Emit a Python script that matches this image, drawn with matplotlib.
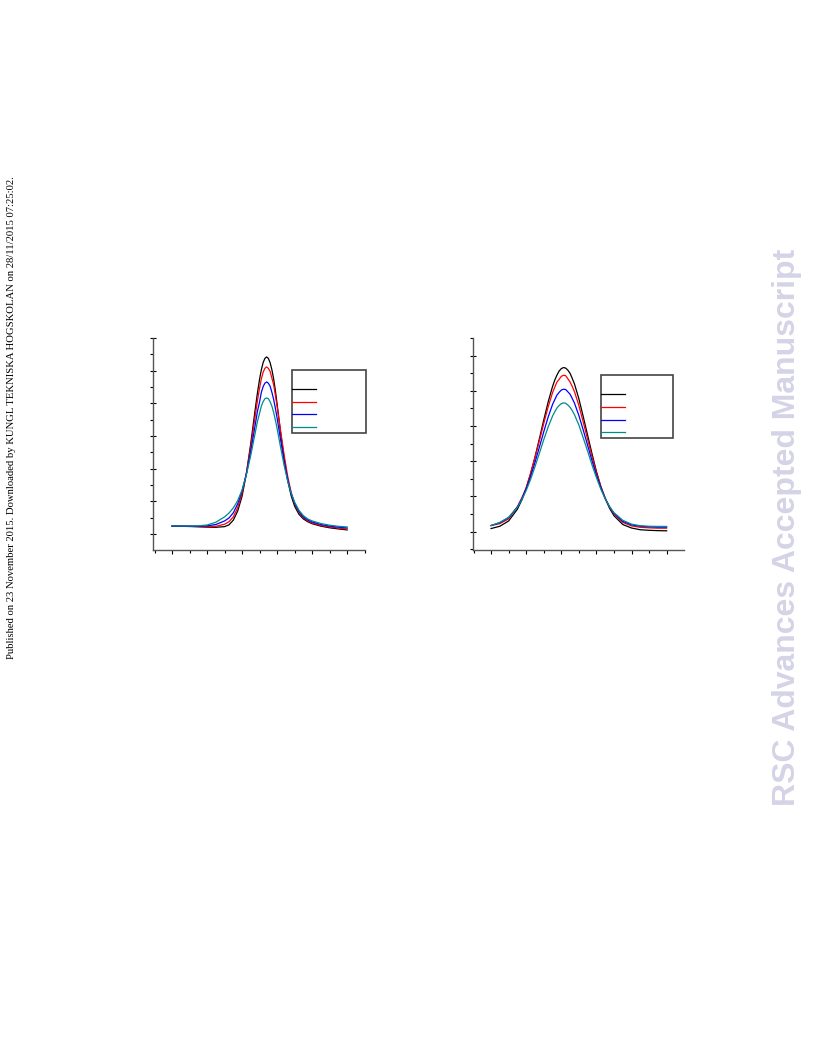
import matplotlib.pyplot as plt
from matplotlib.patches import Rectangle
from matplotlib.ticker import MultipleLocator, NullFormatter

# left panel
xa = [0, 0.5, 1, 1.5, 2, 2.5, 3, 3.25, 3.5, 3.75, 4, 4.25, 4.5, 4.75, 4.875, 5, 5.1, 5.2, 5.3, 5.4,
      5.5, 5.6, 5.7, 5.8, 5.9, 6, 6.2, 6.4, 6.6, 6.8, 7, 7.25, 7.5, 7.75, 8, 8.5, 9, 9.5, 10]
a_black = [0.48, 0.47, 0.46, 0.44, 0.42, 0.41, 0.45, 0.56, 0.85, 1.41, 2.32, 3.74, 5.59, 7.65, 8.63, 9.49,
           10.06, 10.49, 10.75, 10.84, 10.75, 10.49, 10.06, 9.5, 8.79, 7.95, 6.2, 4.6, 3.3, 2.35, 1.7,
           1.2, 0.92, 0.75, 0.63, 0.48, 0.38, 0.31, 0.25]
a_red = [0.49, 0.48, 0.47, 0.46, 0.45, 0.47, 0.6, 0.75, 1.05, 1.62, 2.5, 3.75, 5.4, 7.25, 8.16, 8.95,
         9.5, 9.9, 10.14, 10.23, 10.14, 9.95, 9.55, 9.15, 8.5, 7.8, 6.3, 4.85, 3.55, 2.55, 1.84,
         1.32, 1.0, 0.8, 0.68, 0.52, 0.43, 0.36, 0.3]
a_blue = [0.49, 0.48, 0.48, 0.48, 0.5, 0.58, 0.8, 0.98, 1.3, 1.85, 2.65, 3.7, 5.1, 6.7, 7.5, 8.1,
          8.68, 9.02, 9.23, 9.31, 9.23, 9.05, 8.68, 8.25, 7.7, 7.1, 5.75, 4.45, 3.35, 2.5, 1.88,
          1.38, 1.05, 0.86, 0.74, 0.58, 0.48, 0.42, 0.37]
a_teal = [0.5, 0.49, 0.49, 0.5, 0.55, 0.72, 1.05, 1.28, 1.6, 2.05, 2.7, 3.65, 4.85, 6.2, 6.89, 7.4,
          7.83, 8.1, 8.28, 8.33, 8.28, 8.1, 7.83, 7.45, 6.98, 6.45, 5.3, 4.2, 3.25, 2.5, 1.95,
          1.45, 1.12, 0.92, 0.8, 0.64, 0.54, 0.47, 0.43]

# right panel
xb = [0, 0.5, 1, 1.5, 1.75, 2, 2.25, 2.5, 2.75, 3, 3.25, 3.5, 3.625, 3.75, 3.875, 4, 4.125, 4.25,
      4.375, 4.5, 4.625, 4.75, 5, 5.25, 5.5, 5.75, 6, 6.25, 6.5, 6.75, 7, 7.5, 8, 8.5, 9, 9.5, 10]
b_black = [0.17, 0.3, 0.6, 1.27, 1.79, 2.46, 3.28, 4.23, 5.27, 6.34, 7.36, 8.24, 8.6, 8.89, 9.12, 9.26,
           9.32, 9.29, 9.17, 8.99, 8.7, 8.39, 7.55, 6.53, 5.47, 4.42, 3.42, 2.57, 1.88, 1.32, 0.9,
           0.4, 0.2, 0.1, 0.07, 0.05, 0.04]
b_red = [0.34, 0.45, 0.72, 1.42, 1.91, 2.49, 3.31, 4.19, 5.16, 6.14, 7.08, 7.89, 8.2, 8.49, 8.65, 8.82,
         8.88, 8.86, 8.68, 8.5, 8.24, 7.95, 7.17, 6.22, 5.24, 4.26, 3.35, 2.56, 1.9, 1.39, 0.99,
         0.52, 0.32, 0.24, 0.21, 0.19, 0.19]
b_blue = [0.34, 0.5, 0.79, 1.39, 1.85, 2.43, 3.12, 3.92, 4.79, 5.67, 6.5, 7.22, 7.49, 7.75, 7.91, 8.04,
          8.09, 8.07, 7.94, 7.8, 7.56, 7.3, 6.6, 5.77, 4.9, 4.02, 3.2, 2.49, 1.88, 1.4, 1.04,
          0.58, 0.38, 0.3, 0.27, 0.25, 0.25]
b_teal = [0.34, 0.52, 0.81, 1.38, 1.8, 2.33, 2.96, 3.68, 4.44, 5.22, 5.94, 6.56, 6.8, 7.02, 7.16, 7.27,
          7.31, 7.29, 7.19, 7.06, 6.87, 6.64, 6.06, 5.32, 4.57, 3.78, 3.07, 2.41, 1.87, 1.41, 1.07,
          0.64, 0.42, 0.33, 0.3, 0.29, 0.29]

colors = ['black', '#ff0000', '#0000ff', '#008b8b']

fig = plt.figure(figsize=(8.16, 10.56), dpi=100)

ax1 = fig.add_axes([153/816, 1-550/1056, 212/816, 212/1056])
ax2 = fig.add_axes([473/816, 1-550/1056, 211/816, 212/1056])


def style(ax, xlim, ylim):
    ax.set_xlim(*xlim)
    ax.set_ylim(*ylim)
    for s in ['top', 'right']:
        ax.spines[s].set_visible(False)
    for s in ['left', 'bottom']:
        ax.spines[s].set_color('#555555')
        ax.spines[s].set_linewidth(1.0)
    ax.xaxis.set_major_locator(MultipleLocator(2))
    ax.xaxis.set_minor_locator(MultipleLocator(1))
    ax.yaxis.set_major_locator(MultipleLocator(2))
    ax.yaxis.set_minor_locator(MultipleLocator(1))
    ax.xaxis.set_major_formatter(NullFormatter())
    ax.yaxis.set_major_formatter(NullFormatter())
    ax.tick_params(which='major', direction='out', length=3, width=0.8)
    ax.tick_params(which='minor', direction='out', length=2, width=0.8)
    ax.tick_params(axis='y', which='major', direction='inout', length=5)


def legend_box(ax, x0, x1, y0, y1, ys):
    ax.add_patch(Rectangle((x0, y0), x1-x0, y1-y0, transform=ax.transAxes,
                           fill=False, edgecolor='#444444', lw=1.2, clip_on=False))
    for c, y in zip(colors, ys):
        ax.plot([x0, x0+0.113], [y, y], color=c, lw=0.9, transform=ax.transAxes, clip_on=False)


for ys, c in zip([a_black, a_red, a_blue, a_teal], colors):
    ax1.plot(xa, ys, color=c, lw=0.9)
style(ax1, (-1.09, 11.02), (-0.98, 12.0))
legend_box(ax1, 0.656, 1.005, 0.552, 0.849, [0.759, 0.699, 0.642, 0.580])

for ys, c in zip([b_black, b_red, b_blue, b_teal], colors):
    ax2.plot(xb, ys, color=c, lw=0.9)
style(ax2, (-1.03, 10.99), (-1.05, 11.0))
legend_box(ax2, 0.607, 0.948, 0.528, 0.825, [0.736, 0.675, 0.615, 0.557])

fig.text(12/816, 1-418/1056,
         'Published on 23 November 2015. Downloaded by KUNGL TEKNISKA HOGSKOLAN on 28/11/2015 07:25:02.',
         rotation=90, ha='center', va='center', fontsize=7.67, family='Liberation Serif')
fig.text(787/816, 1-527/1056, 'RSC Advances Accepted Manuscript', rotation=90,
         ha='center', va='center', fontsize=23, fontweight='bold',
         family='Liberation Sans', color='#d4d4e6')

fig.savefig('out.png', dpi=100)
